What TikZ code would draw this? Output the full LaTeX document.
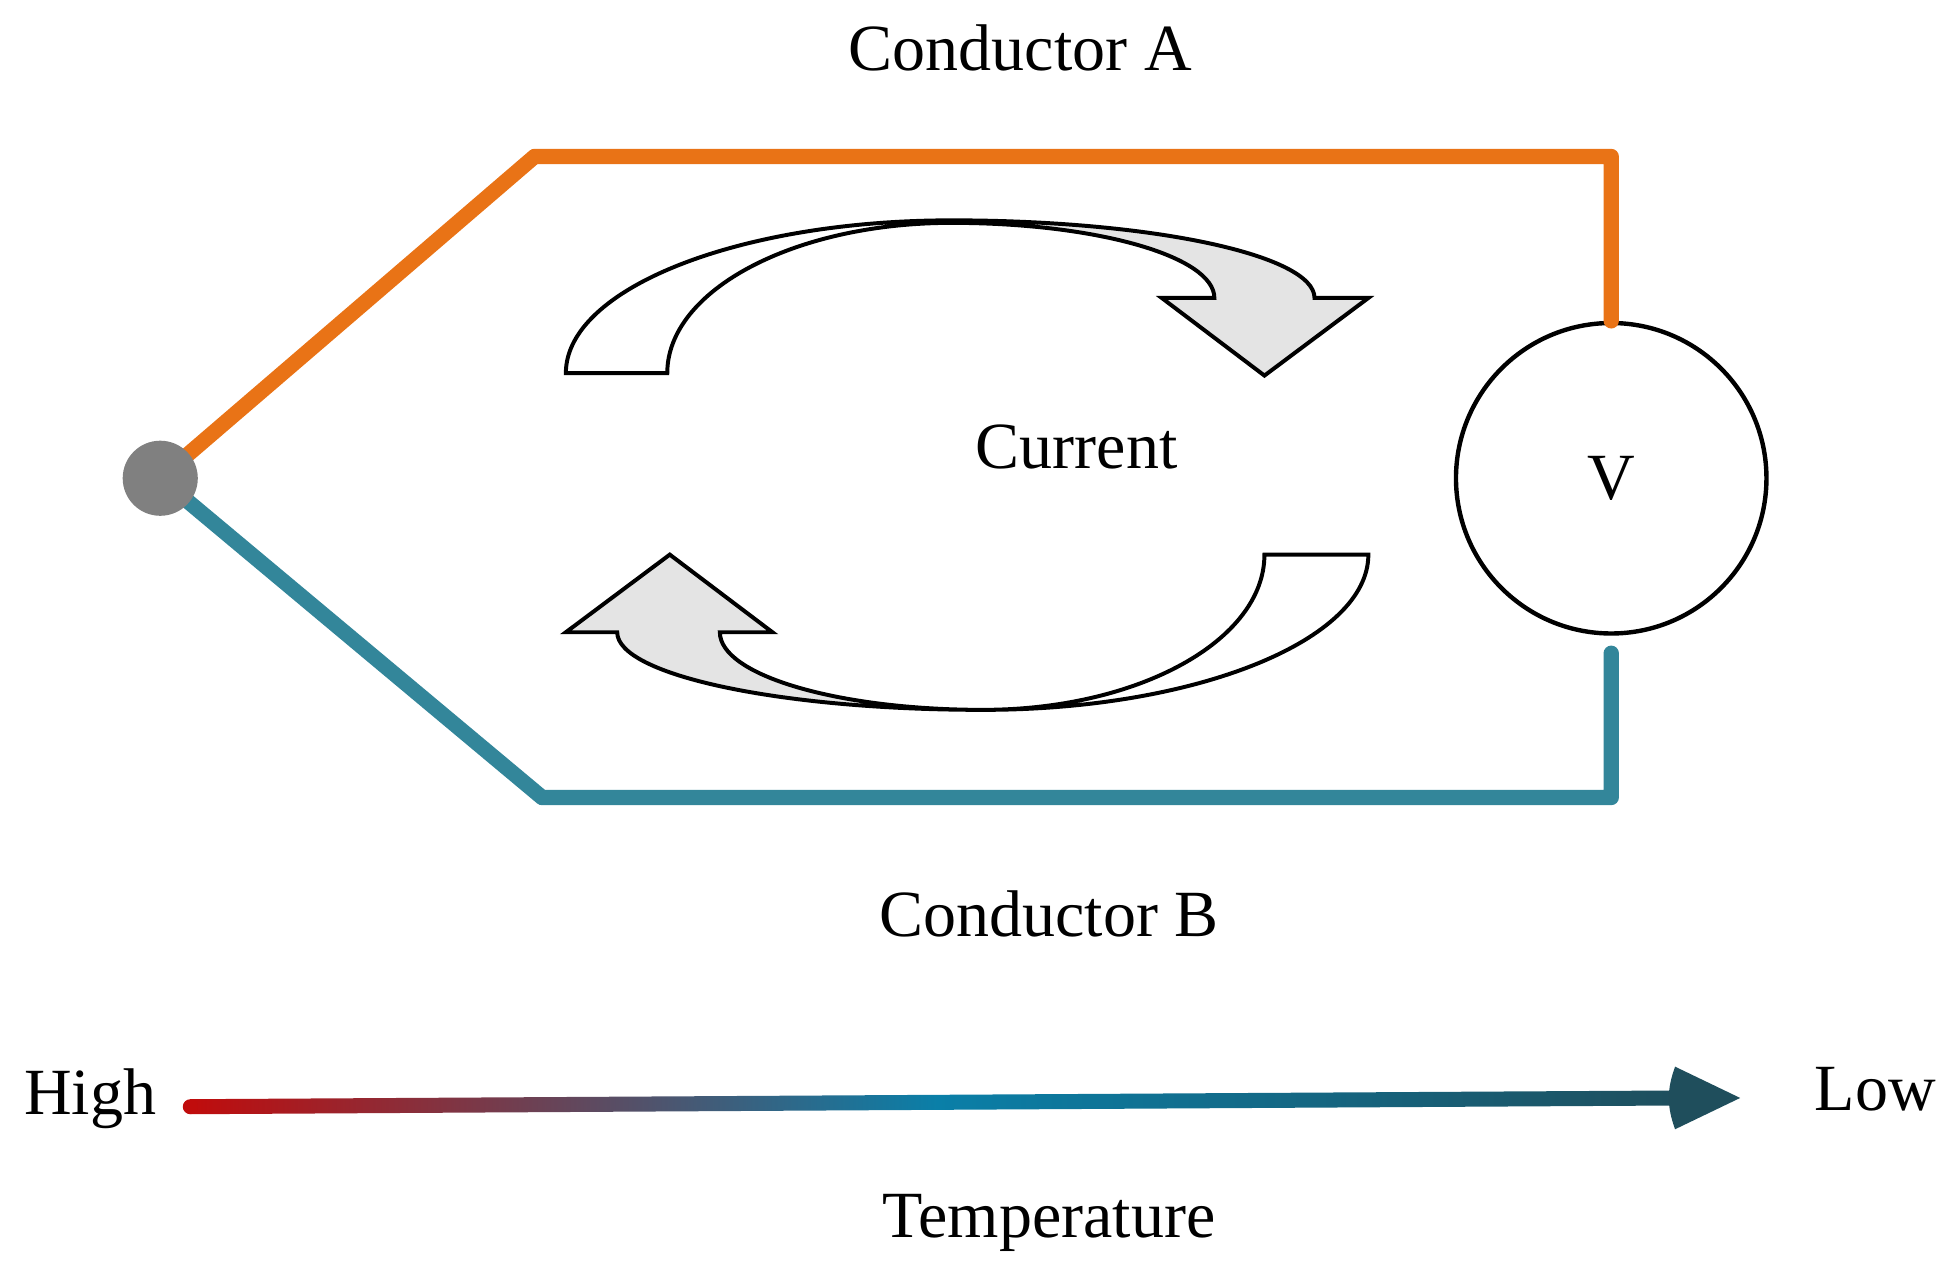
\documentclass[tikz,border=0pt]{standalone}
\usepackage{fontspec}
\setmainfont{Liberation Serif}
\usetikzlibrary{arrows.meta}
\definecolor{orng}{HTML}{E97316}
\definecolor{tealc}{HTML}{33869A}
\definecolor{dk}{HTML}{1F4E5C}
\definecolor{midb}{HTML}{0A7FA8}
\definecolor{hot}{HTML}{C00C0C}
\definecolor{lg}{HTML}{E4E4E4}
\begin{document}
\begin{tikzpicture}[x=0.02cm,y=-0.02cm,
  lbl/.style={font=\fontsize{30}{36}\selectfont, inner sep=0},
  wire/.style={line width=7pt, line cap=round, line join=round},
  carrow/.style={draw=black, line width=1.8pt, line join=miter}]
\useasboundingbox (0,0) rectangle (1560,1019);
\coordinate (J) at (128,382);
\coordinate (a1) at (427,125);
\coordinate (a2) at (1287,125);
\coordinate (b1) at (433,637);
\coordinate (b2) at (1287,637);
\node[circle, draw, line width=2pt, minimum size=248*0.02cm, inner sep=0, font=\fontsize{30}{36}\selectfont] (V) at (1287,382) {V};
\draw[wire, orng] (J) -- (a1) -- (a2) -- (V.north);
\draw[wire, tealc] (J) -- (b1) -- (b2) -- ([yshift=-8pt]V.south);
\node[circle, fill=gray, minimum size=60*0.02cm, inner sep=0] (dot) at (J) {};
% top curved arrow
\def\toparrow{(452,298) -- (533,298) arc[start angle=180, end angle=270, x radius=227, y radius=120]
  arc[start angle=270, end angle=360, x radius=210, y radius=60]
  -- (928,238) -- (1010,300) -- (1093,238) -- (1050,238)
  arc[start angle=0, end angle=-90, x radius=290, y radius=62]
  arc[start angle=-90, end angle=-180, x radius=308, y radius=122] -- cycle}
\fill[white] \toparrow;
\begin{scope}\clip (760,100) rectangle (1200,320); \fill[lg] \toparrow; \end{scope}
\draw[carrow] \toparrow;
% bottom curved arrow
\def\botarrow{(1010,443) arc[start angle=0, end angle=90, x radius=225, y radius=124]
  arc[start angle=90, end angle=180, x radius=210, y radius=62]
  -- (617,505) -- (535,443) -- (452,505) -- (493,505)
  arc[start angle=180, end angle=90, x radius=292, y radius=62]
  arc[start angle=90, end angle=0, x radius=308, y radius=124] -- cycle}
\fill[white] \botarrow;
\begin{scope}\clip (400,420) rectangle (785,600); \fill[lg] \botarrow; \end{scope}
\draw[carrow] \botarrow;
% labels
\node[lbl] (cA) at (815,38) {Conductor A};
\node[lbl] (cur) at (860,357) {Current};
\node[lbl] (cB) at (838,730) {Conductor B};
\node[lbl] (temp) at (838,977) {Temperature};
\node[lbl] (hi) at (72,878) {High};
\node[lbl] (lo) at (1498,870) {Low};
% temperature gradient arrow
\coordinate (t1) at (152,884);
\coordinate (t2) at (1345,877);
\shade[left color=hot, right color=dk, middle color=midb, shading angle=90]
  (152,878) -- (1345,871) -- (1345,883) -- (152,890) -- cycle;
\fill[dk] (1338,852) -- (1390,877) -- (1338,902) to[bend left=20] (1338,852) -- cycle;
\fill[hot] (152,884) circle (6);
\end{tikzpicture}
\end{document}
